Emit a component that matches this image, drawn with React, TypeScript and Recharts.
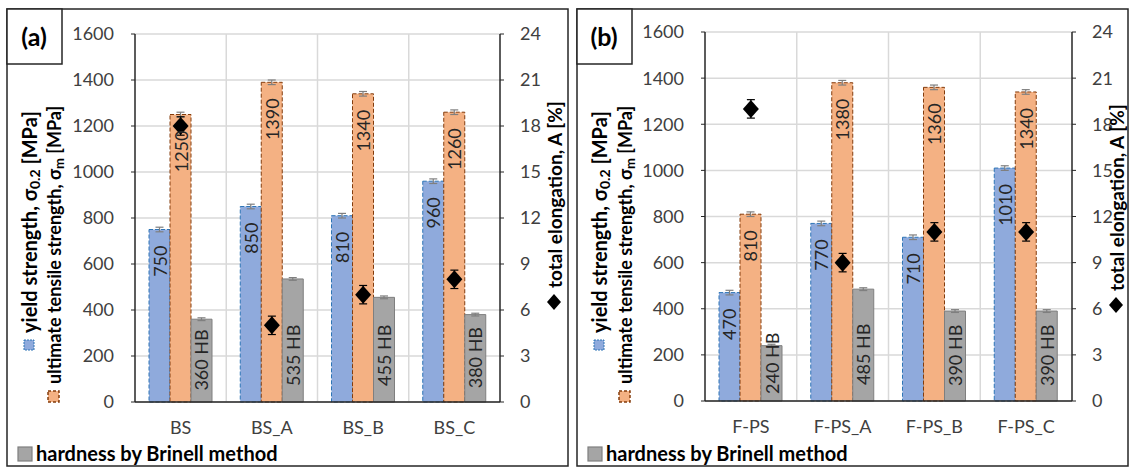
import React from 'react';
import { ComposedChart, Bar, Line, XAxis, YAxis, CartesianGrid, ErrorBar, LabelList } from 'recharts';

// panel (a)
const categoriesA = ['BS', 'BS_A', 'BS_B', 'BS_C'];
const yieldA = [750, 850, 810, 960];
const yieldErrA = [10, 10, 10, 10];
const utsA = [1250, 1390, 1340, 1260];
const utsErrA = [10, 10, 10, 10];
const hardnessA = [360, 535, 455, 380];
const hardnessErrA = [6, 6, 6, 6];
const elongA = [18, 5, 7, 8];
const elongErrA = [0.6, 0.6, 0.6, 0.6];

// panel (b)
const categoriesB = ['F-PS', 'F-PS_A', 'F-PS_B', 'F-PS_C'];
const yieldB = [470, 770, 710, 1010];
const yieldErrB = [10, 10, 10, 10];
const utsB = [810, 1380, 1360, 1340];
const utsErrB = [10, 10, 10, 10];
const hardnessB = [240, 485, 390, 390];
const hardnessErrB = [6, 6, 6, 6];
const elongB = [19, 9, 11, 11];
const elongErrB = [0.6, 0.6, 0.6, 0.6];

const leftTicks = [0, 200, 400, 600, 800, 1000, 1200, 1400, 1600];
const rightTicks = [0, 3, 6, 9, 12, 15, 18, 21, 24];

const FONT = 'Lato, "Open Sans", sans-serif';
const TEXT = '#404040';
const LINE = '#262626';
const BLUE = '#8FAADC';
const BLUE_EDGE = '#2E75B6';
const ORANGE = '#F4B183';
const ORANGE_EDGE = '#843C0C';
const GRAY = '#A5A5A5';
const GRAY_EDGE = '#7F7F7F';

const buildRows = (
  cats: string[], ys: number[], ysErr: number[], uts: number[], utsErr: number[],
  hb: number[], hbErr: number[], el: number[], elErr: number[]
) =>
  cats.map((cat, i) => ({
    cat,
    ys: ys[i], ysErr: ysErr[i],
    uts: uts[i], utsErr: utsErr[i],
    hb: hb[i], hbErr: hbErr[i],
    el: el[i], elErr: elErr[i],
  }));

const rowsA = buildRows(categoriesA, yieldA, yieldErrA, utsA, utsErrA, hardnessA, hardnessErrA, elongA, elongErrA);
const rowsB = buildRows(categoriesB, yieldB, yieldErrB, utsB, utsErrB, hardnessB, hardnessErrB, elongB, elongErrB);

// value label just under the top of the bar, reading upwards
const topLabel = (props: any) => {
  const { x, y, width, value, index } = props;
  const cx = Number(x) + Number(width) / 2;
  const ty = Number(y) + 16;
  return (
    <text key={index} x={cx} y={ty} transform={`rotate(-90 ${cx} ${ty})`} textAnchor="end"
      dominantBaseline="central" fontSize={18} fill="#262626" fontFamily={FONT}>
      {value}
    </text>
  );
};

// hardness label sitting near the base of the bar
const baseLabel = (props: any) => {
  const { x, y, width, height, value, index } = props;
  const text = `${value} HB`;
  const len = text.length * 10;
  const gap = Math.max(7, Math.min(16, (Number(height) - len) / 2));
  const cx = Number(x) + Number(width) / 2;
  const ty = Number(y) + Number(height) - gap;
  return (
    <text key={index} x={cx} y={ty} transform={`rotate(-90 ${cx} ${ty})`} textAnchor="start"
      dominantBaseline="central" fontSize={18} fill="#262626" fontFamily={FONT}>
      {text}
    </text>
  );
};

const diamond = (p: any) => {
  if (p.cx == null || p.cy == null) return <g key={p.index} />;
  return (
    <path key={p.index} fill="#000"
      d={`M${p.cx},${p.cy - 9} L${p.cx + 8},${p.cy} L${p.cx},${p.cy + 9} L${p.cx - 8},${p.cy} Z`} />
  );
};

const tickStyle = { fontSize: 18, fill: TEXT, fontFamily: FONT };

interface PanelProps {
  rows: ReturnType<typeof buildRows>;
  width: number;
  top: number;
  bottom: number;
  right: number;
}

const Panel: React.FC<PanelProps> = ({ rows, width, top, bottom, right }) => (
  <ComposedChart width={width} height={457} data={rows} barGap={0}
    margin={{ top, right: 0, bottom: 0, left: 0 }}>
    <CartesianGrid yAxisId="left" stroke="#D9D9D9" strokeWidth={1.5}
      verticalCoordinatesGenerator={({ offset }: any) =>
        [1, 2, 3].map((i) => offset.left + (offset.width * i) / rows.length)} />
    <XAxis dataKey="cat" height={bottom} tickLine={false} tickSize={0} tickMargin={19}
      axisLine={{ stroke: LINE, strokeWidth: 1.5 }} tick={tickStyle} interval={0} />
    <XAxis xAxisId="top" dataKey="cat" orientation="top" height={0} tick={false} tickLine={false}
      axisLine={{ stroke: LINE, strokeWidth: 1.5 }} />
    <YAxis yAxisId="left" width={128} domain={[0, 1600]} ticks={leftTicks} interval={0}
      tickSize={4} tickMargin={17} tick={tickStyle}
      axisLine={{ stroke: LINE, strokeWidth: 1.5 }} tickLine={{ stroke: LINE }} />
    <YAxis yAxisId="right" orientation="right" width={right} domain={[0, 24]} ticks={rightTicks}
      interval={0} tickSize={4} tickMargin={16} tick={tickStyle}
      axisLine={{ stroke: LINE, strokeWidth: 1.5 }} tickLine={{ stroke: LINE }} />
    <Bar yAxisId="left" dataKey="ys" barSize={21} fill={BLUE} stroke={BLUE_EDGE} strokeWidth={1}
      strokeDasharray="4 2" isAnimationActive={false}>
      <ErrorBar dataKey="ysErr" width={4} stroke={GRAY_EDGE} strokeWidth={1.2} direction="y" />
      <LabelList dataKey="ys" content={topLabel} />
    </Bar>
    <Bar yAxisId="left" dataKey="uts" barSize={21} fill={ORANGE} stroke={ORANGE_EDGE} strokeWidth={1}
      strokeDasharray="4 2" isAnimationActive={false}>
      <ErrorBar dataKey="utsErr" width={4} stroke={GRAY_EDGE} strokeWidth={1.2} direction="y" />
      <LabelList dataKey="uts" content={topLabel} />
    </Bar>
    <Bar yAxisId="left" dataKey="hb" barSize={21} fill={GRAY} stroke={GRAY_EDGE} strokeWidth={1}
      isAnimationActive={false}>
      <ErrorBar dataKey="hbErr" width={4} stroke={GRAY_EDGE} strokeWidth={1.2} direction="y" />
      <LabelList dataKey="hb" content={baseLabel} />
    </Bar>
    <Line yAxisId="right" dataKey="el" stroke="none" dot={diamond} activeDot={false}
      isAnimationActive={false} legendType="none">
      <ErrorBar dataKey="elErr" width={4} stroke="#000" strokeWidth={1.2} direction="y" />
    </Line>
  </ComposedChart>
);

const titleStyle = { fontFamily: FONT, fontWeight: 700, fill: '#000' } as const;

const rotated = (x: number, y: number) => `rotate(-90 ${x} ${y})`;

interface DecorProps {
  left: number;
  width: number;
  label: string;
  y1x: number;
  y2x: number;
  elX: number;
  elY: number;
}

// frame, panel tag, rotated axis titles and legend keys
const Decor: React.FC<DecorProps> = ({ left, width, label, y1x, y2x, elX, elY }) => (
  <g>
    <rect x={left} y={9} width={width} height={457} fill="none" stroke={LINE} strokeWidth={1.5} />
    <rect x={left} y={9} width={55} height={55} fill="#fff" stroke={LINE} strokeWidth={1.5} />
    <text x={left + 27} y={46} textAnchor="middle" fontFamily={FONT} fontWeight={700} fontSize={25} fill="#000">
      {label}
    </text>

    <rect x={y1x - 5} y={340} width={10} height={10} fill={BLUE} stroke={BLUE_EDGE} strokeDasharray="2 1" />
    <text x={y1x} y={333} transform={rotated(y1x, 333)} dominantBaseline="central" fontSize={20} {...titleStyle}>
      yield strength, σ<tspan fontSize={14} dy={5}>0.2</tspan><tspan dy={-5}> [MPa]</tspan>
    </text>

    <rect x={y2x - 6} y={391} width={11} height={11} fill={ORANGE} stroke={ORANGE_EDGE} strokeWidth={1.5} strokeDasharray="3 2" />
    <text x={y2x} y={384} transform={rotated(y2x, 384)} dominantBaseline="central" fontSize={18} {...titleStyle}>
      ultimate tensile strength, σ<tspan fontSize={13} dy={5}>m</tspan><tspan dy={-5}> [MPa]</tspan>
    </text>

    <path d={`M${elX},${elY - 8} L${elX + 7},${elY} L${elX},${elY + 8} L${elX - 7},${elY} Z`} fill="#000" />
    <text x={elX} y={elY - 14} transform={rotated(elX, elY - 14)} dominantBaseline="central" fontSize={19} {...titleStyle}>
      total elongation, A [%]
    </text>

    <rect x={left + 11} y={447} width={14} height={14} fill={GRAY} stroke={GRAY_EDGE} strokeWidth={1.2} />
    <text x={left + 29} y={461} fontSize={20} {...titleStyle}>hardness by Brinell method</text>
  </g>
);

export default function App() {
  return (
    <div style={{ position: 'absolute', left: 0, top: 0, width: 1131, height: 470, background: '#fff', fontFamily: FONT }}>
      <div style={{ position: 'absolute', left: 7, top: 9 }}>
        <Panel rows={rowsA} width={561} top={25} bottom={64} right={68} />
      </div>
      <div style={{ position: 'absolute', left: 577, top: 9 }}>
        <Panel rows={rowsB} width={551} top={23} bottom={65} right={56} />
      </div>
      <svg width={1131} height={470} style={{ position: 'absolute', left: 0, top: 0, pointerEvents: 'none' }}>
        <Decor left={7} width={561} label="(a)" y1x={29} y2x={54} elX={554} elY={302} />
        <Decor left={577} width={551} label="(b)" y1x={599} y2x={625} elX={1116} elY={305} />
      </svg>
    </div>
  );
}
